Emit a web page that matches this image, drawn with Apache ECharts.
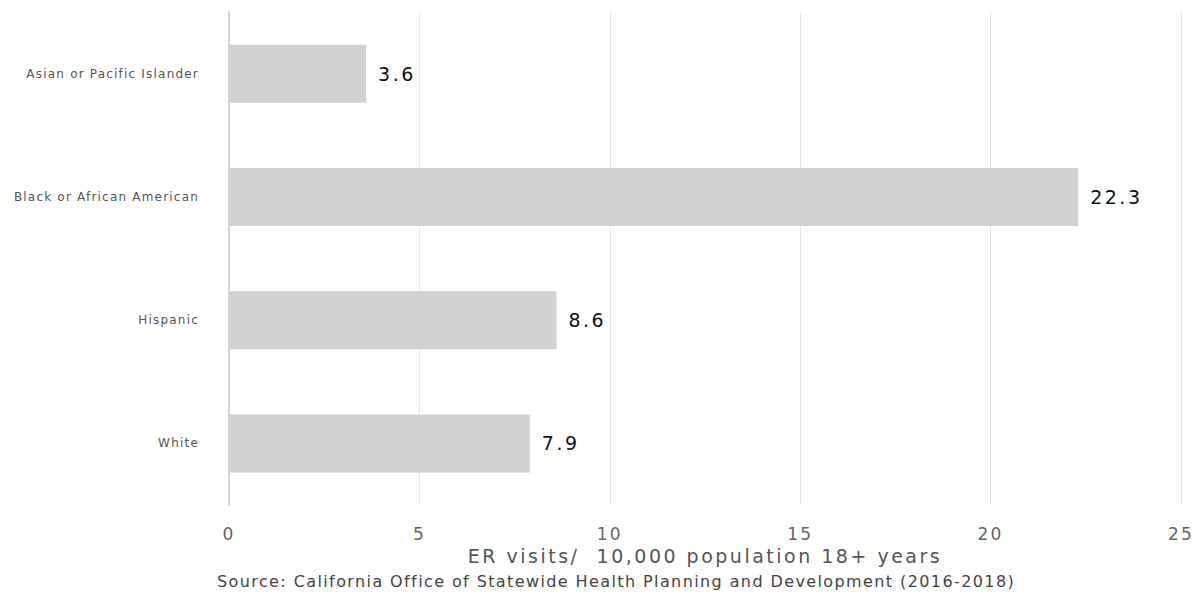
<!DOCTYPE html>
<html><head><meta charset="utf-8">
<script src="https://cdn.jsdelivr.net/npm/echarts@6/dist/echarts.min.js"></script>
<style>html,body{margin:0;padding:0;background:#fff}#c{width:1202px;height:597px}</style>
</head><body><div id="c"></div>
<script>
const categories = ["Asian or Pacific Islander", "Black or African American", "Hispanic", "White"];
const values = [3.6, 22.3, 8.6, 7.9];
const xTicks = [0, 5, 10, 15, 20, 25];
const xTitle = "ER visits/  10,000 population 18+ years";
const source = "Source: California Office of Statewide Health Planning and Development (2016-2018)";

const chart = echarts.init(document.getElementById('c'), null, {renderer: 'svg'});
chart.setOption({
  animation: false,
  backgroundColor: '#fff',
  textStyle: {fontFamily: 'DejaVu Sans'},
  grid: {left: 229, right: 21, top: 12, bottom: 92, containLabel: false},
  xAxis: {
    type: 'value', min: xTicks[0], max: xTicks[xTicks.length - 1], interval: 5,
    axisLine: {show: false}, axisTick: {show: false},
    splitLine: {lineStyle: {color: '#e6e6e6', width: 1}},
    axisLabel: {color: '#666', fontSize: 17, margin: 20, fontFamily: 'DejaVu Sans'},
    name: xTitle, nameLocation: 'middle', nameGap: 39,
    nameTextStyle: {color: '#555', fontSize: 19, fontFamily: 'DejaVu Sans'}
  },
  yAxis: {
    type: 'category', data: categories, inverse: true,
    axisLine: {show: true, lineStyle: {color: '#d4d4d4', width: 2}},
    axisTick: {show: false},
    axisLabel: {color: '#555', fontSize: 12, margin: 30, fontFamily: 'DejaVu Sans'}
  },
  graphic: [{
    type: 'text', left: 217, top: 573,
    style: {text: source, fill: '#444', fontSize: 16, fontFamily: 'DejaVu Sans'}
  }],
  series: [{
    type: 'bar', data: values, barWidth: 58,
    itemStyle: {color: '#d1d1d1'},
    label: {show: true, position: 'right', distance: 12, color: '#111', fontSize: 19, fontFamily: 'DejaVu Sans'}
  }]
});

// letter spacing per text size, to match the wide-set type of the reference
const spacing = {12: 1.2, 16: 1.4, 17: 2.2, 19: 2.5};
function applySpacing() {
  document.querySelectorAll('#c svg text').forEach(t => {
    const fs = Math.round(parseFloat(getComputedStyle(t).fontSize));
    if (spacing[fs] !== undefined) t.style.letterSpacing = spacing[fs] + 'px';
  });
}
applySpacing();
chart.on('finished', applySpacing);
</script></body></html>
